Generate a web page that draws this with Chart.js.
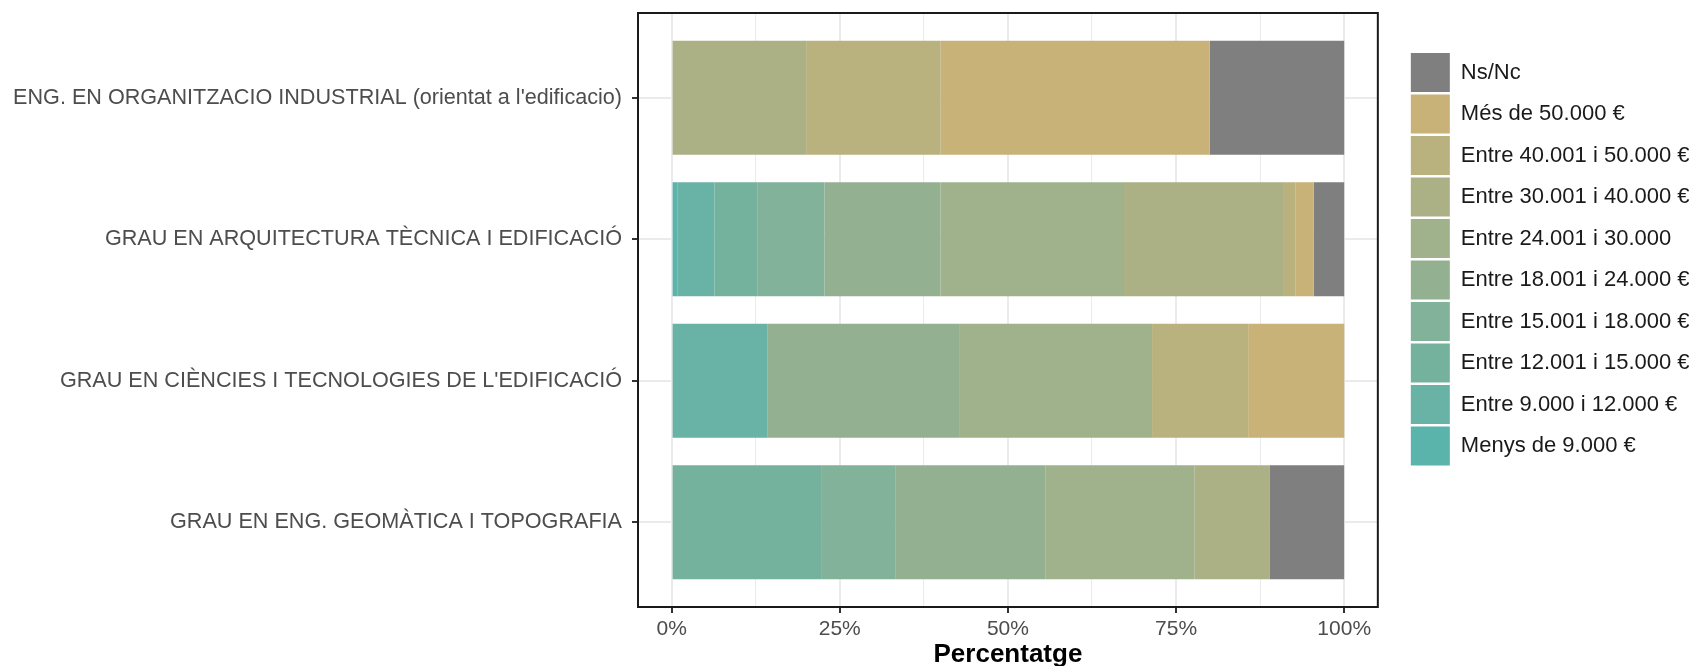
<!DOCTYPE html>
<html>
<head>
<meta charset="utf-8">
<script src="https://cdn.jsdelivr.net/npm/chart.js@4.4.1/dist/chart.umd.min.js"></script>
<style>
  body { margin: 0; background: #fff; }
</style>
</head>
<body>
<canvas id="chart" width="1696" height="666"></canvas>
<script>
// salary bands per degree, each bar stacked to 100%
const categories = [
  "ENG. EN ORGANITZACIO INDUSTRIAL (orientat a l'edificacio)",
  'GRAU EN ARQUITECTURA TÈCNICA I EDIFICACIÓ',
  "GRAU EN CIÈNCIES I TECNOLOGIES DE L'EDIFICACIÓ",
  'GRAU EN ENG. GEOMÀTICA I TOPOGRAFIA'
];

// legend labels, in stacking order (left to right)
const bands = [
  'Menys de 9.000 €',
  'Entre 9.000 i 12.000 €',
  'Entre 12.001 i 15.000 €',
  'Entre 15.001 i 18.000 €',
  'Entre 18.001 i 24.000 €',
  'Entre 24.001 i 30.000',
  'Entre 30.001 i 40.000 €',
  'Entre 40.001 i 50.000 €',
  'Més de 50.000 €',
  'Ns/Nc'
];

// percentages, one value per category
const menys9   = [0, 0.91, 0, 0];
const de9a12   = [0, 5.45, 14.29, 0];
const de12a15  = [0, 6.36, 0, 22.22];
const de15a18  = [0, 10.0, 0, 11.11];
const de18a24  = [0, 17.27, 28.57, 22.22];
const de24a30  = [0, 27.27, 28.57, 22.22];
const de30a40  = [20, 23.64, 0, 11.11];
const de40a50  = [20, 1.82, 14.29, 0];
const mes50    = [40, 2.73, 14.29, 0];
const nsnc     = [20, 4.55, 0, 11.11];

const series = [menys9, de9a12, de12a15, de15a18, de18a24, de24a30, de30a40, de40a50, mes50, nsnc];

const colors = [
  '#5bb4ac', '#69b3a6', '#75b29d', '#83b29a', '#93b190',
  '#a0b28b', '#acb185', '#b9b27e', '#c8b277', '#7f7f7f'
];

// x grid positions (major every 25, minor in between)
const xGrid = [0, 12.5, 25, 37.5, 50, 62.5, 75, 87.5, 100];

Chart.defaults.font.family = "'Liberation Sans', Arial, sans-serif";

// ggplot style box round the panel
const panelBorder = {
  id: 'panelBorder',
  afterDraw(chart) {
    const {ctx, chartArea: a} = chart;
    ctx.save();
    ctx.strokeStyle = '#1a1a1a';
    ctx.lineWidth = 2;
    ctx.strokeRect(a.left, a.top, a.right - a.left, a.bottom - a.top);
    ctx.restore();
  }
};

const ctx = document.getElementById('chart');
const barChart = new Chart(ctx, {
  type: 'bar',
  data: {
    datasets: series.map((vals, i) => ({
      label: bands[i],
      data: vals.map((v, j) => ({x: v, y: j + 1})),
      backgroundColor: colors[i],
      borderWidth: 0,
      barPercentage: 0.806,
      categoryPercentage: 1
    }))
  },
  options: {
    indexAxis: 'y',
    responsive: false,
    animation: false,
    layout: { padding: { top: 13, right: 6, bottom: 0, left: 0 } },
    scales: {
      x: {
        type: 'linear',
        stacked: true,
        min: -5,
        max: 105,
        afterBuildTicks: s => { s.ticks = xGrid.map(v => ({value: v})); },
        afterFit: s => { s.height = 59; },
        ticks: {
          callback: v => (v % 25 === 0 ? v + '%' : ''),
          color: '#4d4d4d',
          font: { size: 21 },
          padding: 4,
          autoSkip: false,
          maxRotation: 0
        },
        grid: {
          color: '#ebebeb',
          lineWidth: c => (c.tick && c.tick.value % 25 === 0 ? 2 : 1),
          tickColor: c => (c.tick && c.tick.value % 25 === 0 ? '#333333' : 'rgba(0,0,0,0)'),
          tickLength: 6,
          tickWidth: 2
        },
        border: { display: false },
        title: {
          display: true,
          text: 'Percentatge',
          color: '#000',
          font: { size: 26, weight: 'bold' },
          padding: { top: 0, bottom: -4 }
        }
      },
      y: {
        type: 'linear',
        stacked: true,
        reverse: true,
        offset: false,
        min: 0.4,
        max: 4.6,
        afterBuildTicks: s => { s.ticks = categories.map((c, i) => ({value: i + 1})); },
        afterFit: s => {
          s.width = 638;
          s.paddingTop = 0;
          s.paddingBottom = 0;
        },
        ticks: {
          callback: v => categories[v - 1],
          color: '#4d4d4d',
          font: { size: 21.6 },
          padding: 10,
          autoSkip: false
        },
        grid: {
          offset: false,
          color: '#ebebeb',
          lineWidth: 2,
          tickColor: '#333333',
          tickLength: 6,
          tickWidth: 2
        },
        border: { display: false }
      },
      // empty axis, only keeps the gap between panel and legend
      gap: {
        type: 'linear',
        position: 'right',
        display: true,
        grid: { display: false, drawTicks: false },
        ticks: { display: false },
        border: { display: false },
        afterFit: s => {
          s.width = 30.5;
          s.paddingTop = 0;
          s.paddingBottom = 0;
        }
      }
    },
    plugins: {
      tooltip: { enabled: false },
      legend: {
        position: 'right',
        align: 'start',
        reverse: true,
        title: {
          display: true,
          text: ' ',
          font: { size: 10, lineHeight: 1 },
          padding: { top: 27.5, bottom: 0 }
        },
        labels: {
          boxWidth: 39,
          boxHeight: 39,
          padding: 2.5,
          color: '#1a1a1a',
          font: { size: 22 }
        }
      }
    }
  },
  plugins: [panelBorder]
});
</script>
</body>
</html>
